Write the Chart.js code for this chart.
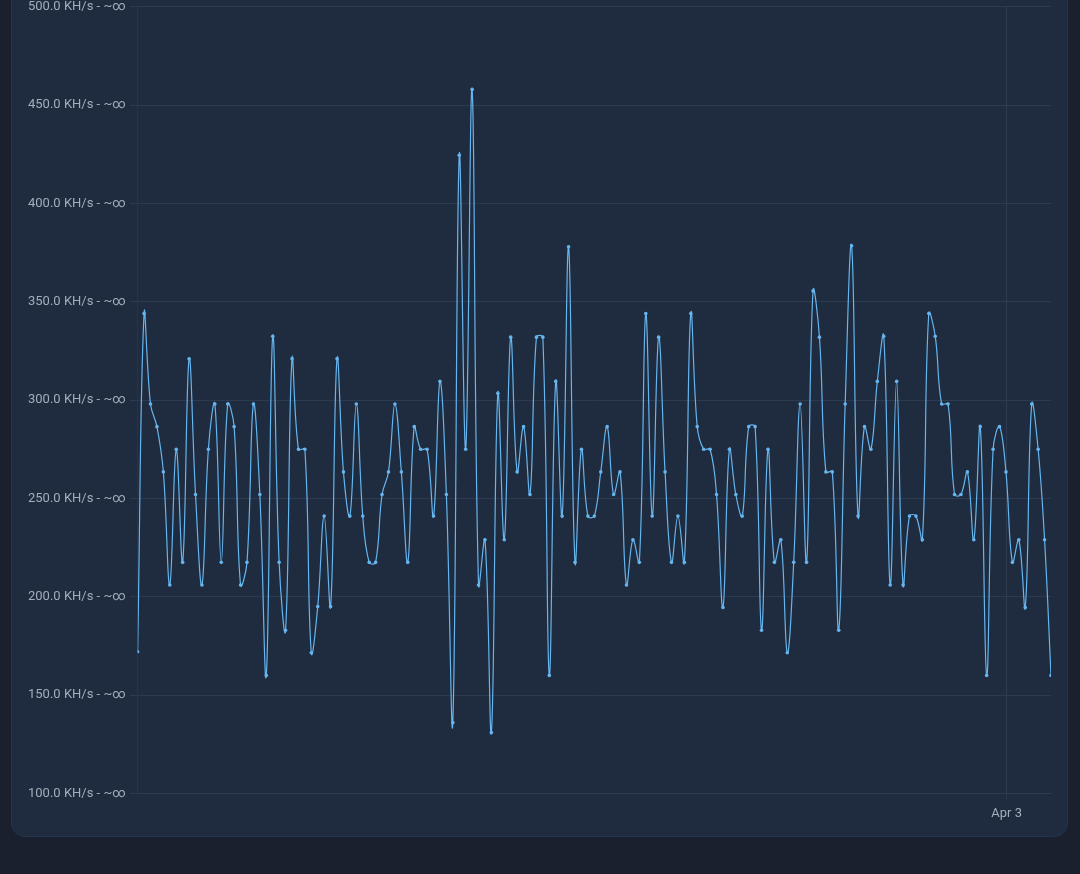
<!DOCTYPE html>
<html>
<head>
<meta charset="utf-8">
<script src="https://cdn.jsdelivr.net/npm/chart.js@4.4.1/dist/chart.umd.min.js"></script>
<style>
  html, body { margin: 0; padding: 0; background: #1a202d; width: 1080px; height: 874px; overflow: hidden; }
  .card {
    position: absolute; left: 11px; top: -30px; width: 1055px; height: 865px;
    background: #1f2b3e; border: 1px solid #26354b; border-radius: 14px;
  }
  .chart-box { position: absolute; left: 0; top: 24px; width: 1055px; height: 837px; }
</style>
</head>
<body>
<div class="card">
  <div class="chart-box"><canvas id="myCanvas"></canvas></div>
</div>
<script>
// muestras cada 10 minutos, desde Apr 2 01:29
const startMinute = 89;
const stepMinutes = 10;
const hashrate = [
  172, 344, 298, 286.5, 263.5, 206, 275, 217.5, 321, 252,
  206, 275, 298, 217.5, 298, 286.5, 206, 217.5, 298, 252,
  160, 332.5, 217.5, 183, 321, 275, 275, 171.5, 195, 241,
  195, 321, 263.5, 241, 298, 241, 217.5, 217.5, 252, 263.5,
  298, 263.5, 217.5, 286.5, 275, 275, 241, 309.5, 252, 136,
  424.5, 275, 458, 206, 229, 131, 303.5, 229, 332, 263.5,
  286.5, 252, 332, 332, 160, 309.5, 241, 378, 217.5, 275,
  241, 241, 263.5, 286.5, 252, 263.5, 206, 229, 217.5, 344,
  241, 332, 263.5, 217.5, 241, 217.5, 344, 286.5, 275, 275,
  252, 194.5, 275, 252, 241, 286.5, 286.5, 183, 275, 217.5,
  229, 171.5, 217.5, 298, 217.5, 355.5, 332, 263.5, 263.5, 183,
  298, 378.5, 241, 286.5, 275, 309.5, 332.5, 206, 309.5, 206,
  241, 241, 229, 344, 332.5, 298, 298, 252, 252, 263.5,
  229, 286.5, 160, 275, 286.5, 263.5, 217.5, 229, 194.5, 298,
  275, 229, 160
];
const yTicks = [100, 150, 200, 250, 300, 350, 400, 450, 500];
const dayTicks = [{ minute: 1440, label: 'Apr 3' }];

const points = hashrate.map((v, i) => ({ x: startMinute + i * stepMinutes, y: v }));

const lineColor = '#66b5ee';
const gridColor = '#2c3b52';
const textColor = '#a3adbb';

new Chart(document.getElementById('myCanvas'), {
  type: 'line',
  data: {
    datasets: [{
      data: points,
      borderColor: lineColor,
      backgroundColor: lineColor,
      borderWidth: 1.2,
      pointRadius: 1.8,
      pointBorderWidth: 0,
      tension: 0.4,
      fill: false
    }]
  },
  options: {
    responsive: true,
    maintainAspectRatio: false,
    animation: false,
    layout: { padding: { left: 12, right: 16, top: 0, bottom: 3 } },
    plugins: { legend: { display: false }, tooltip: { enabled: false } },
    scales: {
      x: {
        type: 'linear',
        min: points[0].x,
        max: points[points.length - 1].x,
        afterBuildTicks: axis => { axis.ticks = dayTicks.map(t => ({ value: t.minute })); },
        ticks: {
          color: textColor,
          font: { family: 'Roboto', size: 13 },
          padding: 7,
          maxRotation: 0,
          callback: v => (dayTicks.find(t => t.minute === v) || {}).label
        },
        grid: { color: gridColor, tickLength: 6 },
        border: { color: gridColor }
      },
      y: {
        min: 100,
        max: 500,
        afterBuildTicks: axis => { axis.ticks = yTicks.map(v => ({ value: v })); },
        ticks: {
          color: textColor,
          font: { family: 'Roboto', size: 13 },
          padding: 4,
          callback: v => v.toFixed(1) + ' KH/s - ~∞'
        },
        grid: { color: gridColor, tickLength: 8 },
        border: { color: '#26344a' }
      }
    }
  }
});
</script>
</body>
</html>
